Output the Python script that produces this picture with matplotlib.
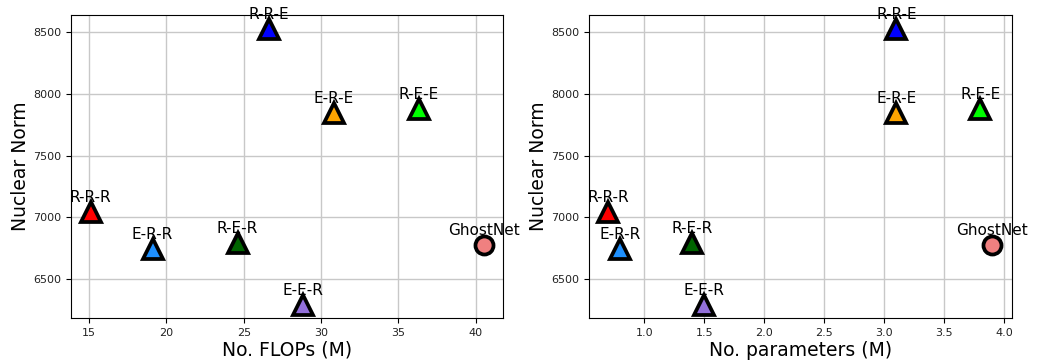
import matplotlib
matplotlib.use('Agg')
import matplotlib.pyplot as plt

# Model variants and their measurements
names = ['R-R-R', 'E-R-R', 'R-E-R', 'R-R-E', 'E-E-R', 'E-R-E', 'R-E-E', 'GhostNet']
flops = [15.1, 19.1, 24.6, 26.6, 28.8, 30.8, 36.3, 40.5]
params = [0.7, 0.8, 1.4, 3.1, 1.5, 3.1, 3.8, 3.9]
nuclear = [7045, 6742, 6793, 8527, 6294, 7842, 7879, 6777]
colors = ['red', 'dodgerblue', 'darkgreen', 'blue', 'mediumpurple', 'orange', 'lime', 'lightcoral']
markers = ['^', '^', '^', '^', '^', '^', '^', 'o']


def draw(ax, xs, xlabel):
    for n, x, y, c, m in zip(names, xs, nuclear, colors, markers):
        ax.plot(x, y, marker=m, color=c, markersize=14 if m == '^' else 13,
                markeredgecolor='black', markeredgewidth=2.7, linestyle='none', zorder=5)
        ax.annotate(n, (x, y), xytext=(0, 5), textcoords='offset points',
                    ha='center', va='bottom', fontsize=11, zorder=4)
    ax.set_xlabel(xlabel, fontsize=13.5, labelpad=2)
    ax.set_ylabel('Nuclear Norm', fontsize=13.5, labelpad=2)
    ax.tick_params(labelsize=8, labelcolor='#222222')
    ax.grid(True, color='#c8c8c8', linewidth=1)
    ax.set_axisbelow(True)
    ax.set_yticks([6500, 7000, 7500, 8000, 8500])


fig = plt.figure(figsize=(10.54, 3.63), dpi=100)
ax1 = fig.add_axes([0.0674, 0.123, 0.41, 0.836])
ax2 = fig.add_axes([0.5588, 0.123, 0.401, 0.836])

draw(ax1, flops, 'No. FLOPs (M)')
draw(ax2, params, 'No. parameters (M)')

fig.savefig('out.png', dpi=100)
